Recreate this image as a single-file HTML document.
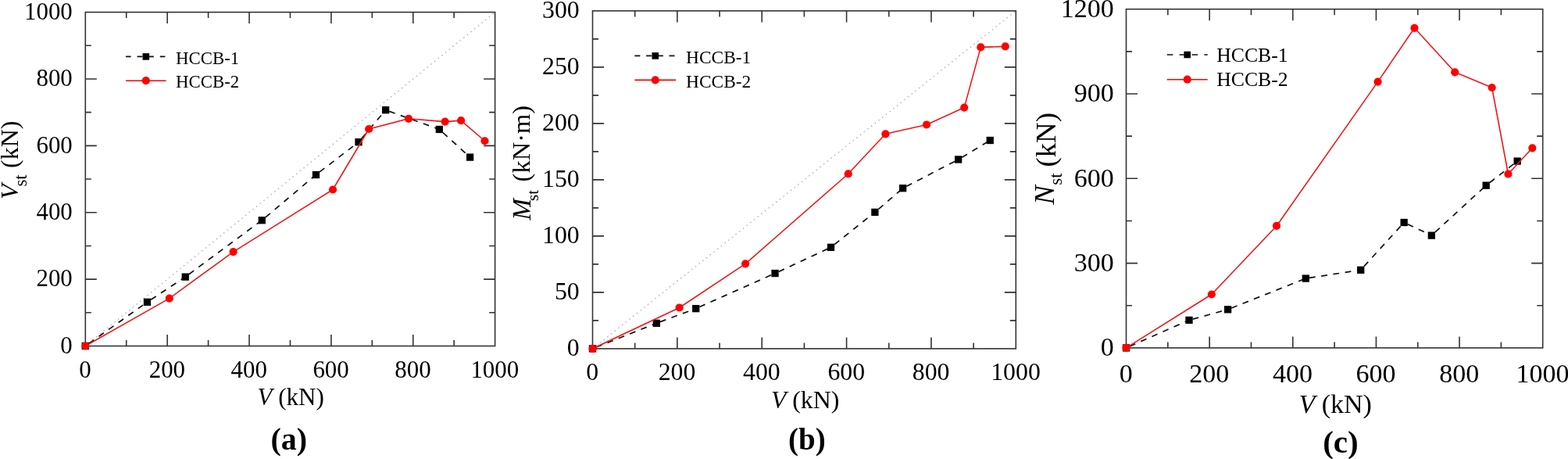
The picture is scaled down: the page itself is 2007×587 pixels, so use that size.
<!DOCTYPE html>
<html><head><meta charset="utf-8"><title>Figure</title>
<style>
html,body{margin:0;padding:0;background:#fff;}
body{width:2007px;height:587px;overflow:hidden;}
svg{display:block;}
text{font-family:"Liberation Serif","Times New Roman",serif;fill:#000;}
.sub{font-weight:bold;}
</style></head>
<body>
<svg width="2007" height="587" viewBox="0 0 2007 587">
<rect width="2007" height="587" fill="#fff"/>
<g>
<line x1="109.3" y1="442.5" x2="633.6" y2="15.6" stroke="#adadad" stroke-width="1.3" stroke-dasharray="1.6 4.4" />
<path d="M161.73 442.5v-7.5M161.73 15.6v7.5M214.16 442.5v-14.5M214.16 15.6v14.5M266.59 442.5v-7.5M266.59 15.6v7.5M319.02 442.5v-14.5M319.02 15.6v14.5M371.45 442.5v-7.5M371.45 15.6v7.5M423.88 442.5v-14.5M423.88 15.6v14.5M476.31 442.5v-7.5M476.31 15.6v7.5M528.74 442.5v-14.5M528.74 15.6v14.5M581.17 442.5v-7.5M581.17 15.6v7.5M109.3 399.81h7.5M633.6 399.81h-7.5M109.3 357.12h14.5M633.6 357.12h-14.5M109.3 314.43h7.5M633.6 314.43h-7.5M109.3 271.74h14.5M633.6 271.74h-14.5M109.3 229.05h7.5M633.6 229.05h-7.5M109.3 186.36h14.5M633.6 186.36h-14.5M109.3 143.67h7.5M633.6 143.67h-7.5M109.3 100.98h14.5M633.6 100.98h-14.5M109.3 58.29h7.5M633.6 58.29h-7.5" stroke="#333" stroke-width="1.6" fill="none"/>
<rect x="109.3" y="15.6" width="524.3" height="426.9" stroke="#333" stroke-width="1.6" fill="none"/>
<g stroke="#111" stroke-width="1.7" stroke-dasharray="7.8 7.6" fill="none"><line x1="109.3" y1="442.5" x2="188.47" y2="386.32" stroke-dashoffset="9.7"/><line x1="188.47" y1="386.32" x2="237.23" y2="354.13" stroke-dashoffset="9.83"/><line x1="237.23" y1="354.13" x2="335.27" y2="281.73" stroke-dashoffset="9.62"/><line x1="335.27" y1="281.73" x2="404.48" y2="223.5" stroke-dashoffset="9.32"/><line x1="404.48" y1="223.5" x2="459.01" y2="181.66" stroke-dashoffset="9.54"/><line x1="459.01" y1="181.66" x2="493.61" y2="140.68" stroke-dashoffset="9.31"/><line x1="493.61" y1="140.68" x2="562.3" y2="165.44" stroke-dashoffset="10.46"/><line x1="562.3" y1="165.44" x2="601.62" y2="201.09" stroke-dashoffset="9.12"/></g>
<rect x="104.65" y="437.85" width="9.3" height="9.3" fill="#000"/>
<rect x="183.82" y="381.67" width="9.3" height="9.3" fill="#000"/>
<rect x="232.58" y="349.48" width="9.3" height="9.3" fill="#000"/>
<rect x="330.62" y="277.08" width="9.3" height="9.3" fill="#000"/>
<rect x="399.83" y="218.85" width="9.3" height="9.3" fill="#000"/>
<rect x="454.36" y="177.01" width="9.3" height="9.3" fill="#000"/>
<rect x="488.96" y="136.03" width="9.3" height="9.3" fill="#000"/>
<rect x="557.65" y="160.79" width="9.3" height="9.3" fill="#000"/>
<rect x="596.97" y="196.44" width="9.3" height="9.3" fill="#000"/>
<polyline points="109.3,442.5 216.78,381.62 298.57,322.11 425.98,242.5 472.12,165.01 522.97,151.78 569.64,155.62 590.08,154.13 620.49,180.26" fill="none" stroke="#f01818" stroke-width="1.6" stroke-linejoin="round"/>
<circle cx="109.3" cy="442.5" r="5.1" fill="#ff0000"/>
<circle cx="216.78" cy="381.62" r="5.1" fill="#ff0000"/>
<circle cx="298.57" cy="322.11" r="5.1" fill="#ff0000"/>
<circle cx="425.98" cy="242.5" r="5.1" fill="#ff0000"/>
<circle cx="472.12" cy="165.01" r="5.1" fill="#ff0000"/>
<circle cx="522.97" cy="151.78" r="5.1" fill="#ff0000"/>
<circle cx="569.64" cy="155.62" r="5.1" fill="#ff0000"/>
<circle cx="590.08" cy="154.13" r="5.1" fill="#ff0000"/>
<circle cx="620.49" cy="180.26" r="5.1" fill="#ff0000"/>
<line x1="161" y1="72.4" x2="212.6" y2="72.4" stroke="#111" stroke-width="1.7" stroke-dasharray="6.6 8"/>
<rect x="182.5" y="68.1" width="8.6" height="8.6" fill="#000"/>
<line x1="161" y1="103.2" x2="212.6" y2="103.2" stroke="#ff0000" stroke-width="1.6"/>
<circle cx="186.8" cy="103.2" r="5.1" fill="#ff0000"/>
<text x="225.1" y="82" font-size="22.8">HCCB-1</text>
<text x="225.1" y="112.4" font-size="22.8">HCCB-2</text>
<text x="109" y="482.5" font-size="30.9" text-anchor="middle">0</text>
<text x="213.86" y="482.5" font-size="30.9" text-anchor="middle">200</text>
<text x="318.72" y="482.5" font-size="30.9" text-anchor="middle">400</text>
<text x="423.58" y="482.5" font-size="30.9" text-anchor="middle">600</text>
<text x="528.44" y="482.5" font-size="30.9" text-anchor="middle">800</text>
<text x="633.3" y="482.5" font-size="30.9" text-anchor="middle">1000</text>
<text x="92.8" y="451.7" font-size="30.9" text-anchor="end">0</text>
<text x="92.8" y="366.32" font-size="30.9" text-anchor="end">200</text>
<text x="92.8" y="280.94" font-size="30.9" text-anchor="end">400</text>
<text x="92.8" y="195.56" font-size="30.9" text-anchor="end">600</text>
<text x="92.8" y="110.18" font-size="30.9" text-anchor="end">800</text>
<text x="92.8" y="24.8" font-size="30.9" text-anchor="end">1000</text>
</g>
<g>
<line x1="758.5" y1="445.9" x2="1300.3" y2="13.9" stroke="#adadad" stroke-width="1.3" stroke-dasharray="1.6 4.4" />
<path d="M812.68 445.9v-7.5M812.68 13.9v7.5M866.86 445.9v-14.5M866.86 13.9v14.5M921.04 445.9v-7.5M921.04 13.9v7.5M975.22 445.9v-14.5M975.22 13.9v14.5M1029.4 445.9v-7.5M1029.4 13.9v7.5M1083.58 445.9v-14.5M1083.58 13.9v14.5M1137.76 445.9v-7.5M1137.76 13.9v7.5M1191.94 445.9v-14.5M1191.94 13.9v14.5M1246.12 445.9v-7.5M1246.12 13.9v7.5M758.5 409.9h7.5M1300.3 409.9h-7.5M758.5 373.9h14.5M1300.3 373.9h-14.5M758.5 337.9h7.5M1300.3 337.9h-7.5M758.5 301.9h14.5M1300.3 301.9h-14.5M758.5 265.9h7.5M1300.3 265.9h-7.5M758.5 229.9h14.5M1300.3 229.9h-14.5M758.5 193.9h7.5M1300.3 193.9h-7.5M758.5 157.9h14.5M1300.3 157.9h-14.5M758.5 121.9h7.5M1300.3 121.9h-7.5M758.5 85.9h14.5M1300.3 85.9h-14.5M758.5 49.9h7.5M1300.3 49.9h-7.5" stroke="#333" stroke-width="1.6" fill="none"/>
<rect x="758.5" y="13.9" width="541.8" height="432" stroke="#333" stroke-width="1.6" fill="none"/>
<g stroke="#111" stroke-width="1.7" stroke-dasharray="7.8 7.6" fill="none"><line x1="758.5" y1="445.9" x2="840.31" y2="413.36" stroke-dashoffset="10.4"/><line x1="840.31" y1="413.36" x2="890.7" y2="394.64" stroke-dashoffset="10.44"/><line x1="890.7" y1="394.64" x2="992.02" y2="349.56" stroke-dashoffset="10.31"/><line x1="992.02" y1="349.56" x2="1063.53" y2="316.3" stroke-dashoffset="10.27"/><line x1="1063.53" y1="316.3" x2="1119.88" y2="271.37" stroke-dashoffset="9.45"/><line x1="1119.88" y1="271.37" x2="1155.64" y2="240.7" stroke-dashoffset="9.27"/><line x1="1155.64" y1="240.7" x2="1226.62" y2="203.98" stroke-dashoffset="10.16"/><line x1="1226.62" y1="203.98" x2="1267.25" y2="179.5" stroke-dashoffset="9.97"/></g>
<rect x="753.85" y="441.25" width="9.3" height="9.3" fill="#000"/>
<rect x="835.66" y="408.71" width="9.3" height="9.3" fill="#000"/>
<rect x="886.05" y="389.99" width="9.3" height="9.3" fill="#000"/>
<rect x="987.37" y="344.91" width="9.3" height="9.3" fill="#000"/>
<rect x="1058.88" y="311.65" width="9.3" height="9.3" fill="#000"/>
<rect x="1115.23" y="266.72" width="9.3" height="9.3" fill="#000"/>
<rect x="1150.99" y="236.05" width="9.3" height="9.3" fill="#000"/>
<rect x="1221.97" y="199.33" width="9.3" height="9.3" fill="#000"/>
<rect x="1262.6" y="174.85" width="9.3" height="9.3" fill="#000"/>
<polyline points="758.5,445.9 869.57,393.48 954.09,337.32 1085.75,222.27 1133.43,171.29 1185.98,159.48 1234.2,137.6 1255.33,60.41 1286.76,59.4" fill="none" stroke="#f01818" stroke-width="1.6" stroke-linejoin="round"/>
<circle cx="758.5" cy="445.9" r="5.1" fill="#ff0000"/>
<circle cx="869.57" cy="393.48" r="5.1" fill="#ff0000"/>
<circle cx="954.09" cy="337.32" r="5.1" fill="#ff0000"/>
<circle cx="1085.75" cy="222.27" r="5.1" fill="#ff0000"/>
<circle cx="1133.43" cy="171.29" r="5.1" fill="#ff0000"/>
<circle cx="1185.98" cy="159.48" r="5.1" fill="#ff0000"/>
<circle cx="1234.2" cy="137.6" r="5.1" fill="#ff0000"/>
<circle cx="1255.33" cy="60.41" r="5.1" fill="#ff0000"/>
<circle cx="1286.76" cy="59.4" r="5.1" fill="#ff0000"/>
<line x1="812.4" y1="71.4" x2="865.1" y2="71.4" stroke="#111" stroke-width="1.7" stroke-dasharray="7 7.7"/>
<rect x="834.45" y="67.1" width="8.6" height="8.6" fill="#000"/>
<line x1="812.4" y1="102.4" x2="865.1" y2="102.4" stroke="#ff0000" stroke-width="1.6"/>
<circle cx="838.75" cy="102.4" r="5.1" fill="#ff0000"/>
<text x="878.1" y="81" font-size="23.4">HCCB-1</text>
<text x="878.1" y="112" font-size="23.4">HCCB-2</text>
<text x="758.2" y="485.8" font-size="31.8" text-anchor="middle">0</text>
<text x="866.56" y="485.8" font-size="31.8" text-anchor="middle">200</text>
<text x="974.92" y="485.8" font-size="31.8" text-anchor="middle">400</text>
<text x="1083.28" y="485.8" font-size="31.8" text-anchor="middle">600</text>
<text x="1191.64" y="485.8" font-size="31.8" text-anchor="middle">800</text>
<text x="1300" y="485.8" font-size="31.8" text-anchor="middle">1000</text>
<text x="741.7" y="455.1" font-size="31.8" text-anchor="end">0</text>
<text x="741.7" y="383.1" font-size="31.8" text-anchor="end">50</text>
<text x="741.7" y="311.1" font-size="31.8" text-anchor="end">100</text>
<text x="741.7" y="239.1" font-size="31.8" text-anchor="end">150</text>
<text x="741.7" y="167.1" font-size="31.8" text-anchor="end">200</text>
<text x="741.7" y="95.1" font-size="31.8" text-anchor="end">250</text>
<text x="741.7" y="23.1" font-size="31.8" text-anchor="end">300</text>
</g>
<g>
<path d="M1494.82 444.9v-7.5M1494.82 11.7v7.5M1548.14 444.9v-14.5M1548.14 11.7v14.5M1601.46 444.9v-7.5M1601.46 11.7v7.5M1654.78 444.9v-14.5M1654.78 11.7v14.5M1708.1 444.9v-7.5M1708.1 11.7v7.5M1761.42 444.9v-14.5M1761.42 11.7v14.5M1814.74 444.9v-7.5M1814.74 11.7v7.5M1868.06 444.9v-14.5M1868.06 11.7v14.5M1921.38 444.9v-7.5M1921.38 11.7v7.5M1441.5 390.75h7.5M1974.7 390.75h-7.5M1441.5 336.6h14.5M1974.7 336.6h-14.5M1441.5 282.45h7.5M1974.7 282.45h-7.5M1441.5 228.3h14.5M1974.7 228.3h-14.5M1441.5 174.15h7.5M1974.7 174.15h-7.5M1441.5 120h14.5M1974.7 120h-14.5M1441.5 65.85h7.5M1974.7 65.85h-7.5" stroke="#333" stroke-width="1.6" fill="none"/>
<rect x="1441.5" y="11.7" width="533.2" height="433.2" stroke="#333" stroke-width="1.6" fill="none"/>
<g stroke="#111" stroke-width="1.7" stroke-dasharray="7.8 7.6" fill="none"><line x1="1441.5" y1="444.9" x2="1522.01" y2="409.41" stroke-dashoffset="10.32"/><line x1="1522.01" y1="409.41" x2="1571.6" y2="395.8" stroke-dashoffset="10.58"/><line x1="1571.6" y1="395.8" x2="1671.31" y2="356.09" stroke-dashoffset="10.39"/><line x1="1671.31" y1="356.09" x2="1741.69" y2="345.3" stroke-dashoffset="10.7"/><line x1="1741.69" y1="345.3" x2="1797.14" y2="284.51" stroke-dashoffset="9.11"/><line x1="1797.14" y1="284.51" x2="1832.34" y2="301.11" stroke-dashoffset="10.26"/><line x1="1832.34" y1="301.11" x2="1902.18" y2="237.14" stroke-dashoffset="9.09"/><line x1="1902.18" y1="237.14" x2="1942.17" y2="206.1" stroke-dashoffset="9.51"/></g>
<rect x="1436.85" y="440.25" width="9.3" height="9.3" fill="#000"/>
<rect x="1517.36" y="404.76" width="9.3" height="9.3" fill="#000"/>
<rect x="1566.95" y="391.15" width="9.3" height="9.3" fill="#000"/>
<rect x="1666.66" y="351.44" width="9.3" height="9.3" fill="#000"/>
<rect x="1737.04" y="340.65" width="9.3" height="9.3" fill="#000"/>
<rect x="1792.49" y="279.86" width="9.3" height="9.3" fill="#000"/>
<rect x="1827.69" y="296.46" width="9.3" height="9.3" fill="#000"/>
<rect x="1897.53" y="232.49" width="9.3" height="9.3" fill="#000"/>
<rect x="1937.52" y="201.45" width="9.3" height="9.3" fill="#000"/>
<polyline points="1441.5,444.9 1550.81,376.49 1633.99,288.95 1763.55,104.62 1810.47,35.81 1862.19,92.28 1909.65,111.99 1930.44,222.52 1961.37,189.31" fill="none" stroke="#f01818" stroke-width="1.6" stroke-linejoin="round"/>
<circle cx="1441.5" cy="444.9" r="5.1" fill="#ff0000"/>
<circle cx="1550.81" cy="376.49" r="5.1" fill="#ff0000"/>
<circle cx="1633.99" cy="288.95" r="5.1" fill="#ff0000"/>
<circle cx="1763.55" cy="104.62" r="5.1" fill="#ff0000"/>
<circle cx="1810.47" cy="35.81" r="5.1" fill="#ff0000"/>
<circle cx="1862.19" cy="92.28" r="5.1" fill="#ff0000"/>
<circle cx="1909.65" cy="111.99" r="5.1" fill="#ff0000"/>
<circle cx="1930.44" cy="222.52" r="5.1" fill="#ff0000"/>
<circle cx="1961.37" cy="189.31" r="5.1" fill="#ff0000"/>
<line x1="1493.7" y1="70" x2="1545.7" y2="70" stroke="#111" stroke-width="1.7" stroke-dasharray="7.7 8.2"/>
<rect x="1515.4" y="65.7" width="8.6" height="8.6" fill="#000"/>
<line x1="1493.7" y1="101.7" x2="1545.7" y2="101.7" stroke="#ff0000" stroke-width="1.6"/>
<circle cx="1519.7" cy="101.7" r="5.1" fill="#ff0000"/>
<text x="1557.3" y="79.2" font-size="25.7">HCCB-1</text>
<text x="1557.3" y="110.2" font-size="25.7">HCCB-2</text>
<text x="1441.2" y="488.5" font-size="34" text-anchor="middle">0</text>
<text x="1547.84" y="488.5" font-size="34" text-anchor="middle">200</text>
<text x="1654.48" y="488.5" font-size="34" text-anchor="middle">400</text>
<text x="1761.12" y="488.5" font-size="34" text-anchor="middle">600</text>
<text x="1867.76" y="488.5" font-size="34" text-anchor="middle">800</text>
<text x="1974.4" y="488.5" font-size="34" text-anchor="middle">1000</text>
<text x="1425.7" y="455.1" font-size="34" text-anchor="end">0</text>
<text x="1425.7" y="346.8" font-size="34" text-anchor="end">300</text>
<text x="1425.7" y="238.5" font-size="34" text-anchor="end">600</text>
<text x="1425.7" y="130.2" font-size="34" text-anchor="end">900</text>
<text x="1425.7" y="21.9" font-size="34" text-anchor="end">1200</text>
</g>
<text x="372.2" y="517.6" font-size="31" text-anchor="middle"><tspan font-style="italic">V</tspan> (kN)</text>
<text x="1030.6" y="522.2" font-size="31.8" text-anchor="middle"><tspan font-style="italic">V</tspan> (kN)</text>
<text x="1709.2" y="527.6" font-size="34" text-anchor="middle"><tspan font-style="italic">V</tspan> (kN)</text>
<text transform="translate(23 255.1) rotate(-90)" font-size="32" font-style="italic">V</text>
<text transform="translate(33.7 238.6) rotate(-90)" font-size="23">st</text>
<text transform="translate(23 215) rotate(-90)" font-size="32">(kN)</text>
<text transform="translate(678.6 281.4) rotate(-90)" font-size="33" font-style="italic">M</text>
<text transform="translate(689.4 257) rotate(-90)" font-size="21">st</text>
<text transform="translate(678.3 232.4) rotate(-90)" font-size="32.5">(kN·m)</text>
<text transform="translate(1349.2 261.7) rotate(-90)" font-size="36.8" font-style="italic">N</text>
<text transform="translate(1358.8 236.7) rotate(-90)" font-size="23">st</text>
<text transform="translate(1350.5 213.6) rotate(-90)" font-size="36.8">(kN)</text>
<text x="369.85" y="574.7" class="sub" font-size="40" text-anchor="middle">(a)</text>
<text x="1032.85" y="575.2" class="sub" font-size="39" text-anchor="middle">(b)</text>
<text x="1715.9" y="578.8" class="sub" font-size="41" text-anchor="middle">(c)</text>
</svg>
</body></html>
